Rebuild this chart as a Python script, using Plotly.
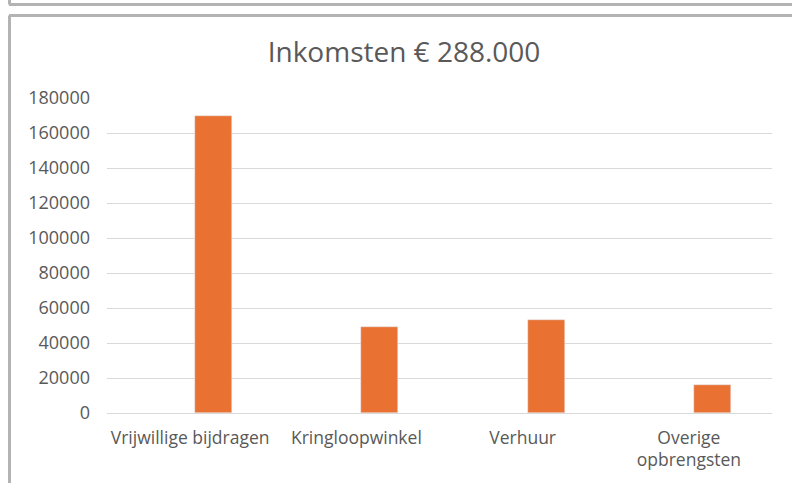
import plotly.graph_objects as go

categories = ["Vrijwillige bijdragen", "Kringloopwinkel", "Verhuur", "Overige opbrengsten"]
tick_labels = ["Vrijwillige bijdragen", "Kringloopwinkel", "Verhuur", "Overige<br>opbrengsten"]
values = [170000, 49000, 53000, 16000]
y_ticks = [0, 20000, 40000, 60000, 80000, 100000, 120000, 140000, 160000, 180000]
title_text = "Inkomsten € 288.000"

W, H = 792, 483
L, R, T, B = 107, 20, 98, 70
pw, ph = W - L - R, H - T - B

def px(x):
    return (x - L) / pw

def py(y):
    return (H - B - y) / ph

fig = go.Figure()
fig.add_trace(go.Bar(
    x=categories,
    y=values,
    marker_color="#E97132",
    offset=0.03,
    width=0.2226,
))

border = "#b3b3b3"
shapes = [
    dict(type="line", xref="paper", yref="paper", x0=px(9), x1=px(792), y0=py(4.5), y1=py(4.5),
         line=dict(color=border, width=3)),
    dict(type="line", xref="paper", yref="paper", x0=px(9.5), x1=px(9.5), y0=py(0), y1=py(4.5),
         line=dict(color=border, width=3)),
    dict(type="line", xref="paper", yref="paper", x0=px(9), x1=px(792), y0=py(15.5), y1=py(15.5),
         line=dict(color=border, width=3)),
    dict(type="line", xref="paper", yref="paper", x0=px(9.5), x1=px(9.5), y0=py(15.5), y1=py(483),
         line=dict(color=border, width=3)),
]

fig.update_layout(
    width=W, height=H,
    margin=dict(l=L, r=R, t=T, b=B),
    paper_bgcolor="white",
    plot_bgcolor="white",
    showlegend=False,
    bargap=0,
    font=dict(family="Open Sans", color="#595959"),
    title=dict(
        text=title_text,
        x=px(404), xref="paper", xanchor="center",
        y=1 - 52 / H, yref="container", yanchor="middle",
        font=dict(size=28, color="#595959", family="Open Sans"),
    ),
    shapes=shapes,
    xaxis=dict(
        type="category",
        range=[-0.5, 3.5],
        tickvals=categories,
        ticktext=tick_labels,
        tickfont=dict(size=17.5, color="#595959"),
        showgrid=False,
        showline=False,
        ticks="",
        ticklabelstandoff=12,
    ),
    yaxis=dict(
        range=[0, 180000],
        tickvals=y_ticks,
        tickformat="d",
        tickfont=dict(size=18, color="#595959"),
        showgrid=True,
        gridcolor="#d9d9d9",
        gridwidth=1,
        zeroline=True,
        zerolinecolor="#d9d9d9",
        zerolinewidth=1,
        showline=False,
        ticks="",
        ticklabelstandoff=16,
    ),
)

fig.write_html(
    "out.html",
    config={"displayModeBar": False},
    post_script=(
        "document.body.style.margin='0';document.body.style.overflow='hidden';"
        "document.documentElement.style.overflow='hidden';"
    ),
)
